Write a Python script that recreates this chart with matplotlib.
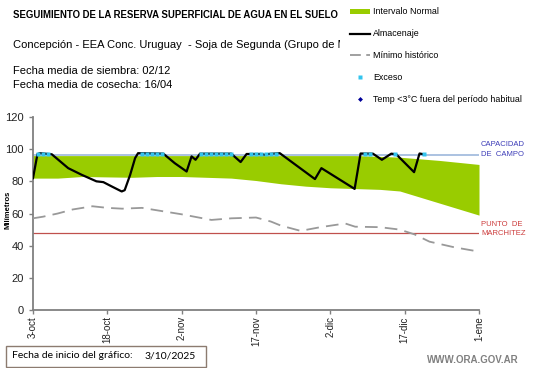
import matplotlib
matplotlib.use("Agg")
import matplotlib.pyplot as plt
from matplotlib.patches import Rectangle, Patch
from matplotlib.lines import Line2D

plt.rcParams['font.family'] = ['Liberation Sans', 'DejaVu Sans']

# ---------------- data ----------------
tick_days = [0, 15, 30, 45, 60, 75, 90]
tick_labels = ["3-oct", "18-oct", "2-nov", "17-nov", "2-dic", "17-dic", "1-ene"]

normal_days = [0, 5, 10, 20, 25, 30, 40, 45, 50, 55, 60, 65, 70, 74, 82, 90]
normal_low = [82, 82, 83, 82.5, 83, 83, 82, 80.5, 78.5, 77, 76, 75.5, 75, 74, 66.5, 59]
normal_high = [96, 96, 96, 96, 96, 96, 96, 96, 96, 96, 96, 96, 95.5, 95, 93, 90.5]

alm_days = [0, 0.9, 1.4, 3.8, 7.1, 9.8, 12.8, 14.2, 15.9, 17.9, 18.5, 19.6, 20.6, 21.2,
            26.3, 28.6, 31.0, 32.0, 32.8, 33.7, 40.0, 41.9, 43.1, 46.0, 46.8, 47.5, 49.8,
            56.9, 58.2, 64.9, 66.1, 68.6, 70.4, 72.3, 73.3, 76.9, 78.0, 78.9]
alm_vals = [82, 96.9, 97.5, 96.8, 88.2, 84.1, 80, 79.5, 76.8, 73.7, 74.5, 84, 94.4, 97.5,
            97.2, 91.3, 86.1, 95.5, 93.4, 97.2, 97.2, 92, 97, 97, 96.5, 97, 97.5,
            81.4, 88.2, 75.3, 97.3, 97.2, 93.4, 97.2, 96.8, 85.7, 97.3, 96.8]

min_days = [0, 2, 5, 8, 12, 15, 18, 22, 25, 30, 36, 40, 45, 48, 50, 54, 58, 63, 65, 70, 74, 77, 80, 85, 90]
min_vals = [57, 58, 60, 62.5, 64.5, 63.5, 63, 63.5, 62, 59.5, 56, 57, 57.5, 55, 52.5, 49.2, 51.5,
            53.8, 51.8, 51.5, 50, 47, 42.5, 39, 36.3]

exceso_days = [1, 2, 3, 22, 23, 24, 25, 26, 34, 35, 36, 37, 38, 39, 40,
               44, 45, 46, 47, 48, 49, 67, 68, 73, 79]
exceso_val = 97

capacidad_campo = 96.5
punto_marchitez = 48

# ---------------- figure ----------------
W, H = 541, 368
fig = plt.figure(figsize=(W / 100, H / 100), dpi=100)
ax = fig.add_axes([33 / W, 58 / H, 446 / W, 193 / H])

green = '#99cc00'
ax.fill_between(normal_days, normal_low, normal_high, color=green, lw=0, zorder=1)
ax.axhline(capacidad_campo, color='#9db7dc', lw=1.2, zorder=2)
ax.axhline(punto_marchitez, color='#c0504d', lw=0.9, zorder=2)
ax.plot(min_days, min_vals, color='#999999', lw=1.3, dashes=(7, 4), zorder=3)
ax.plot(alm_days, alm_vals, color='black', lw=1.6, zorder=4)
ax.plot(exceso_days, [exceso_val] * len(exceso_days), ls='none', marker='s',
        ms=3.0, mfc='#33c4ee', mec='none', zorder=5)

ax.set_xlim(0, 90)
ax.set_ylim(0, 120)
ax.set_yticks(range(0, 121, 20))
ax.set_xticks(tick_days)
ax.set_xticklabels(tick_labels, rotation=90, fontsize=7, color='#222222')
ax.tick_params(axis='y', labelsize=8, labelcolor='#222222', color='#808080', length=3, width=1)
ax.tick_params(axis='x', color='#808080', length=3, width=1, pad=1.5)
for s in ['top', 'right']:
    ax.spines[s].set_visible(False)
for s in ['left', 'bottom']:
    ax.spines[s].set_color('#808080')
    ax.spines[s].set_linewidth(1.3)
ax.set_ylabel('Milímetros', fontsize=5.5, fontweight='bold')
ax.yaxis.set_label_coords((12 - 33) / 446, (310 - 210) / 193)

# right annotations
fig.text(481 / W, 1 - 145 / H, 'CAPACIDAD', fontsize=5.5, color='#3d3db8', va='center')
fig.text(481 / W, 1 - 154.5 / H, 'DE  CAMPO', fontsize=5.5, color='#3d3db8', va='center')
fig.text(481 / W, 1 - 224.5 / H, 'PUNTO  DE', fontsize=5.5, color='#cc3b3b', va='center')
fig.text(481 / W, 1 - 233.5 / H, 'MARCHITEZ', fontsize=5.5, color='#cc3b3b', va='center')

# titles
fig.text(13 / W, 1 - 15 / H, 'SEGUIMIENTO DE LA RESERVA SUPERFICIAL DE AGUA EN EL SUELO',
         fontsize=6.9, fontweight='bold', va='center')
fig.text(13 / W, 1 - 45 / H, 'Concepción - EEA Conc. Uruguay  - Soja de Segunda (Grupo de Madurez)',
         fontsize=8, va='center')
fig.text(13 / W, 1 - 71 / H, 'Fecha media de siembra: 02/12', fontsize=8, va='center')
fig.text(13 / W, 1 - 85 / H, 'Fecha media de cosecha: 16/04', fontsize=8, va='center')

# white cover to clip the subtitle under the legend
fig.add_artist(Rectangle((340 / W, 1 - 60 / H), (W - 340) / W, 30 / H,
                         transform=fig.transFigure, facecolor='white', edgecolor='none', zorder=4))

handles = [
    Patch(facecolor=green, edgecolor='none'),
    Line2D([], [], color='black', lw=1.6),
    Line2D([], [], color='#999999', lw=1.3, dashes=(6, 3)),
    Line2D([], [], ls='none', marker='s', ms=2.5, mfc='#33c4ee', mec='none'),
    Line2D([], [], ls='none', marker='D', ms=2.5, mfc='#000099', mec='none'),
]
labels = ['Intervalo Normal', 'Almacenaje', 'Mínimo histórico', 'Exceso',
          'Temp <3°C fuera del período habitual']
leg = fig.legend(handles, labels, loc='upper left', bbox_to_anchor=(350 / W, 1 - 7.5 / H),
                 frameon=False, fontsize=6.4, handlelength=2.3, handleheight=0.5,
                 handletextpad=0.3, labelspacing=1.45, borderpad=0.0, borderaxespad=0)
leg.set_zorder(6)

# bottom box
fig.add_artist(Rectangle((6 / W, 1 - 367 / H), 200 / W, 21 / H, transform=fig.transFigure,
                         facecolor='white', edgecolor='#8c7b70', lw=1))
fig.text(12 / W, 1 - 356 / H, 'Fecha de inicio del gráfico:', fontsize=7.5,
         family=['Lato', 'DejaVu Sans'], va='center')
fig.text(145 / W, 1 - 356 / H, '3/10/2025', fontsize=7.5,
         family=['Lato', 'DejaVu Sans'], va='center')

fig.text(427 / W, 1 - 360 / H, 'WWW.ORA.GOV.AR', fontsize=7, fontweight='bold',
         color='#808080', va='center')

fig.savefig('out.png', dpi=100)
